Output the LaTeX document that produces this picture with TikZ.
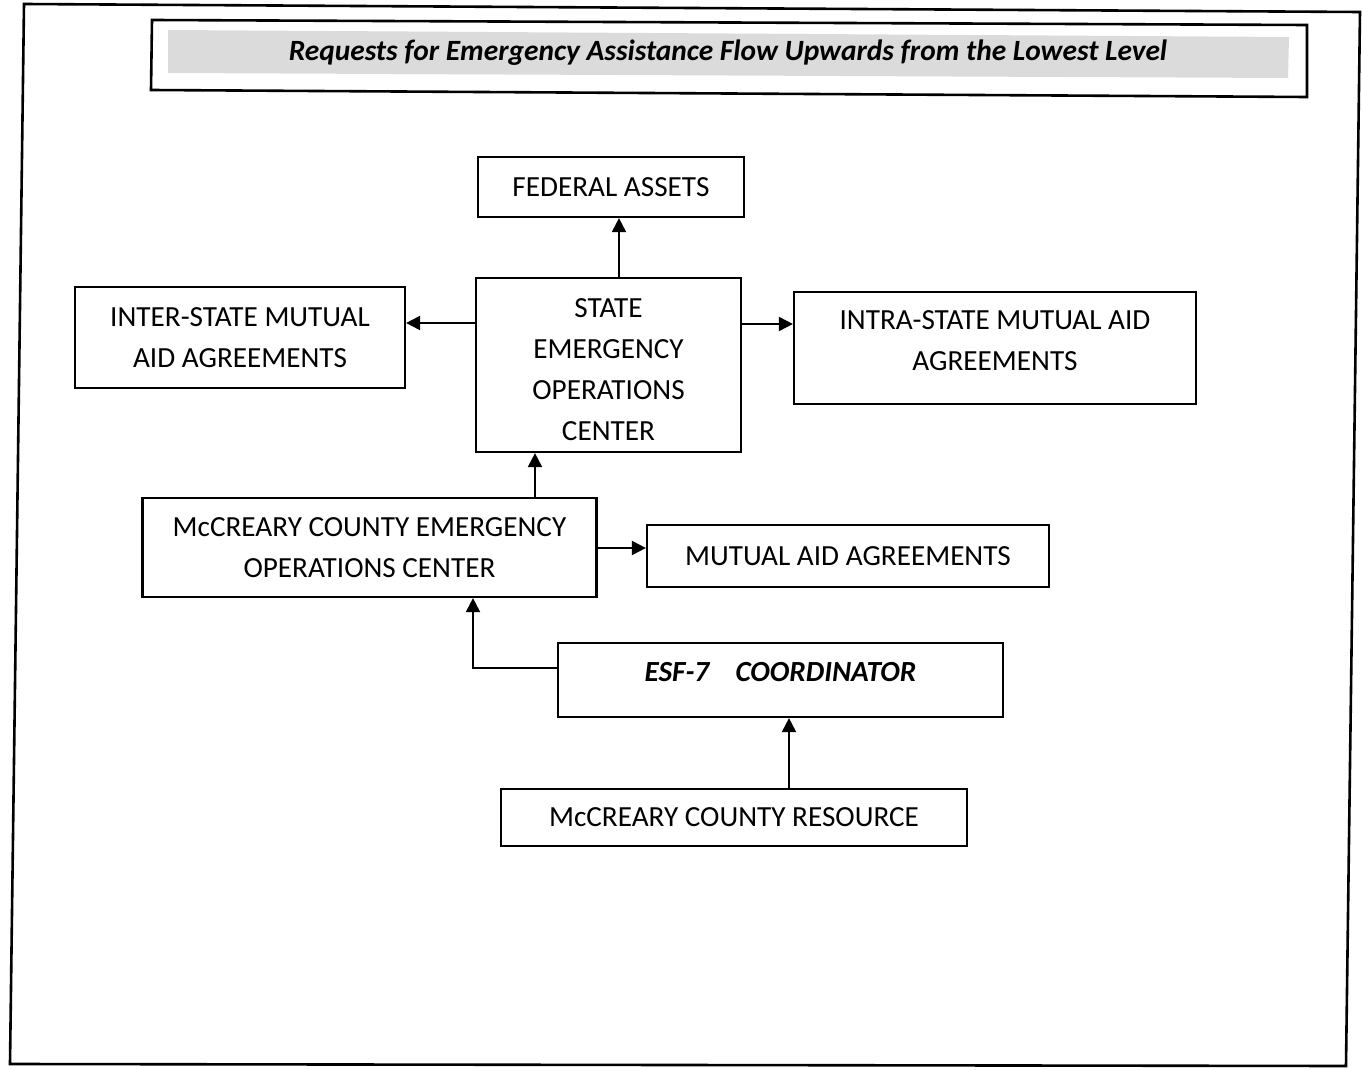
\documentclass[tikz,border=0pt]{standalone}
\usepackage{fontspec}
\setmainfont{Carlito}
\usetikzlibrary{arrows.meta}
\begin{document}
\begin{tikzpicture}[x=0.5pt,y=-0.5pt,
  box/.style={draw,line width=1.1pt,rectangle,inner sep=0pt,align=center,
    font=\fontsize{14.6}{20.5}\selectfont},
  arr/.style={line width=1pt,-{Triangle[length=7pt,width=7pt]}},
  frame/.style={line width=1.3pt}]
\useasboundingbox (0,0) rectangle (1362,1070);
% outer frame
\draw[frame] (24,4) -- (1360,12) -- (1346,1066) -- (10,1064) -- cycle;
% title frame with stippled band
\fill[black!14] (168,30) -- (1289,37) -- (1288,78) -- (168,73) -- cycle;
\draw[frame] (152,20) -- (1307,25) -- (1307,97) -- (151,90) -- cycle;
\node[font=\fontsize{14.7}{17}\selectfont\bfseries\itshape,inner sep=0pt] (title) at (728,53)
  {Requests for Emergency Assistance Flow Upwards from the Lowest Level};
% boxes
\node[box,minimum width=133pt,minimum height=30pt] (fed) at (611,187) {FEDERAL ASSETS};
\node[box,minimum width=132.5pt,minimum height=87pt] (state) at (608.5,365)
  {\rule{0pt}{14.5pt}STATE\\EMERGENCY\\OPERATIONS\\CENTER};
\node[box,minimum width=165pt,minimum height=50.5pt] (inter) at (240,337.5)
  {INTER-STATE MUTUAL\\AID AGREEMENTS};
\node[box,minimum width=201pt,minimum height=56pt,text depth=7pt] (intra) at (995,348)
  {INTRA-STATE MUTUAL AID\\AGREEMENTS};
\node[box,minimum width=227pt,minimum height=49.5pt] (eoc) at (369.5,547.5)
  {McCREARY COUNTY EMERGENCY\\OPERATIONS CENTER};
\node[box,minimum width=201pt,minimum height=31pt] (mutual) at (848,556)
  {MUTUAL AID AGREEMENTS};
\node[box,minimum width=222.5pt,minimum height=37pt,text depth=8pt,font=\fontsize{14.6}{20.5}\selectfont\bfseries\itshape] (esf) at (780.5,680)
  {ESF-7\hspace{0.9em}COORDINATOR};
\node[box,minimum width=233pt,minimum height=28.5pt] (res) at (734,817.5)
  {McCREARY COUNTY RESOURCE};
% helper coordinates
\coordinate (xf) at (619,0);
\coordinate (yi) at (0,323);
\coordinate (yr) at (0,324);
\coordinate (xe) at (535,0);
\coordinate (ym) at (0,548);
\coordinate (ye) at (0,668);
\coordinate (xc) at (473,0);
\coordinate (xr) at (789,0);
% connectors
\draw[arr] (state.north -| xf) -- (fed.south -| xf);
\draw[arr] (state.west |- yi) -- (inter.east |- yi);
\draw[arr] (state.east |- yr) -- (intra.west |- yr);
\draw[arr] (eoc.north -| xe) -- (state.south -| xe);
\draw[arr] (eoc.east |- ym) -- (mutual.west |- ym);
\draw[arr] (esf.west |- ye) -| (eoc.south -| xc);
\draw[arr] (res.north -| xr) -- (esf.south -| xr);
\end{tikzpicture}
\end{document}
